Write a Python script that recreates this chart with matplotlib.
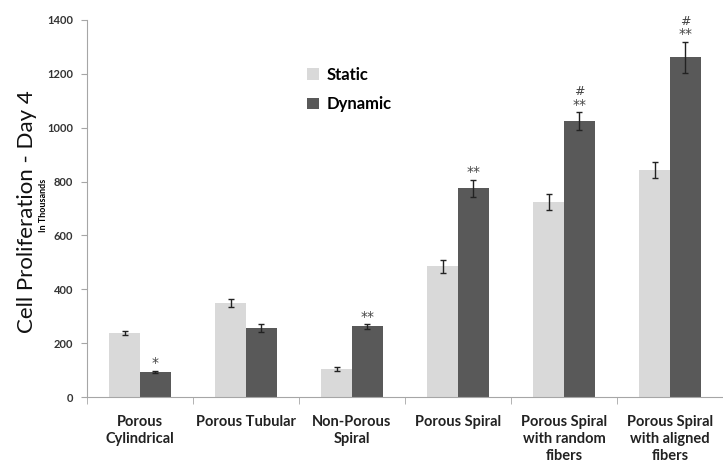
import numpy as np
import matplotlib
matplotlib.use("Agg")
import matplotlib.pyplot as plt

# %% data
categories = [
    "Porous\nCylindrical",
    "Porous Tubular",
    "Non-Porous\nSpiral",
    "Porous Spiral",
    "Porous Spiral\nwith random\nfibers",
    "Porous Spiral\nwith aligned\nfibers",
]
static_vals = [237, 350, 104, 485, 724, 843]
static_err = [8, 15, 7, 24, 28, 29]
dynamic_vals = [93, 256, 262, 775, 1024, 1262]
dynamic_err = [5, 15, 8, 31, 34, 58]
dynamic_marks = ["*", "", "**", "**", "**", "**"]
hash_marks = ["", "", "", "", "#", "#"]

static_color = "#d9d9d9"
dynamic_color = "#595959"
axis_color = "#a6a6a6"
font = ["Lato", "DejaVu Sans"]

# %% figure
fig = plt.figure(figsize=(7.23, 4.74), dpi=100)
ax = fig.add_axes([87 / 723, 77 / 474, 636 / 723, 377 / 474])

x = np.arange(len(categories))
w = 0.29
ax.bar(x - w / 2, static_vals, w, color=static_color, label="Static",
       yerr=static_err, capsize=2.5, error_kw=dict(elinewidth=1, capthick=1, ecolor="#222222"))
ax.bar(x + w / 2, dynamic_vals, w, color=dynamic_color, label="Dynamic",
       yerr=dynamic_err, capsize=2.5, error_kw=dict(elinewidth=1, capthick=1, ecolor="#222222"))

for i in range(len(categories)):
    top = dynamic_vals[i] + dynamic_err[i]
    if dynamic_marks[i]:
        ax.text(x[i] + w / 2, top + 2, dynamic_marks[i], ha="center", va="bottom",
                fontsize=10, color="#444444", family="DejaVu Sans")
    if hash_marks[i]:
        ax.text(x[i] + w / 2, top + 52, hash_marks[i], ha="center", va="bottom",
                fontsize=9, color="#444444", family="DejaVu Sans")

ax.set_xlim(-0.5, -0.5 + 636 / 107)
ax.set_ylim(0, 1400)
ax.set_yticks(range(0, 1401, 200))
ax.set_xticks(x)
ax.set_xticklabels(categories, fontsize=10.5, fontweight="bold", family=font,
                   color="#222222", linespacing=1.25)
ax.set_xticks(np.arange(-0.5, 6, 1), minor=True)
ax.tick_params(axis="x", which="major", length=0, pad=13)
ax.tick_params(axis="x", which="minor", length=5, color=axis_color, direction="out")
ax.tick_params(axis="y", length=4, color=axis_color, labelsize=8, labelcolor="#333333", pad=6)
for lab in ax.get_yticklabels():
    lab.set_fontweight("bold")
    lab.set_family(font)

for s in ["top", "right"]:
    ax.spines[s].set_visible(False)
for s in ["left", "bottom"]:
    ax.spines[s].set_color(axis_color)

fig.text(27 / 723, 1 - 212 / 474, "Cell Proliferation - Day 4", rotation=90,
         ha="center", va="center", fontsize=16, color="#111111",
         family=["Lato", "DejaVu Sans"])
fig.text(44 / 723, 1 - 205 / 474, "In Thousands", rotation=90,
         ha="center", va="center", fontsize=6.5, fontweight="bold", family=font)

ax.legend(loc="upper left", bbox_to_anchor=(205 / 636, 1 - 32 / 377), frameon=False,
          prop=dict(family=font, weight="bold", size=12), handlelength=0.7,
          handleheight=0.7, handletextpad=0.5, labelspacing=0.8)

fig.savefig("out.png", dpi=100)
